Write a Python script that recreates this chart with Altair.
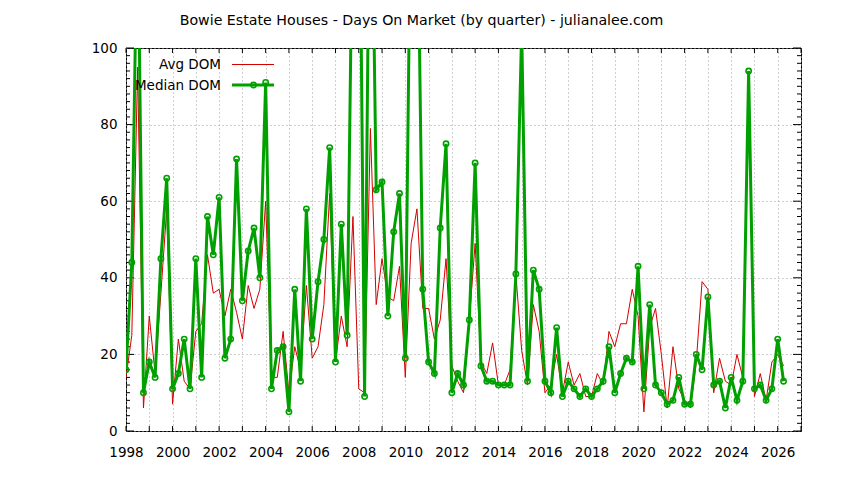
import altair as alt
import pandas as pd

title_text = "Bowie Estate Houses - Days On Market (by quarter) - julianalee.com"
series_names = ["Avg DOM", "Median DOM"]
start_year = 1998

avg_dom = [14, 25, 95, 6, 30, 15, 36, 58, 7, 24, 13, 11, 26, 28, 46, 36,
           37, 30, 37, 31, 24, 38, 32, 37, 60, 14, 14, 26, 10, 22, 16, 38,
           19, 22, 33, 62, 18, 30, 22, 56, 11, 10, 79, 33, 45, 35, 34, 43,
           14, 49, 58, 32, 32, 24, 29, 45, 17, 13, 10, 29, 49, 18, 15, 23,
           12, 12, 16, 41, 21, 12, 33, 26, 10, 12, 20, 10, 18, 12, 15, 9,
           9, 15, 12, 26, 22, 28, 28, 37, 30, 5, 27, 32, 20, 6, 22, 11,
           8, 6, 18, 39, 37, 10, 19, 13, 12, 20, 14, 94, 9, 15, 8, 18,
           20, 17]
median_dom = [16, 44, 140, 10, 18, 14, 45, 66, 11, 15, 24, 11, 45, 14, 56, 46,
              61, 19, 24, 71, 34, 47, 53, 40, 91, 11, 21, 22, 5, 37, 13, 58,
              24, 39, 50, 74, 18, 54, 25, 145, 170, 9, 170, 63, 65, 30, 52, 62,
              19, 150, 150, 37, 18, 15, 53, 75, 10, 15, 12, 29, 70, 17, 13, 13,
              12, 12, 12, 41, 105, 13, 42, 37, 13, 10, 27, 9, 13, 11, 9, 11,
              9, 11, 13, 22, 10, 15, 19, 18, 43, 11, 33, 12, 10, 7, 8, 14,
              7, 7, 20, 16, 35, 12, 13, 6, 14, 8, 13, 94, 11, 12, 8, 11,
              24, 13]

x_tick_years = list(range(1998, 2028))
y_tick_values = list(range(0, 101, 2))
y_label_values = list(range(0, 101, 20))

RED = "#d40000"
GREEN = "#00a000"
FONT = "DejaVu Sans"
W, H = 675, 383

quarters = [start_year + i * 0.25 for i in range(len(median_dom))]
df = pd.DataFrame({"t": quarters, "avg": avg_dom, "median": median_dom})

ticks_y = pd.DataFrame({"v": y_tick_values})
ticks_y["major"] = ticks_y["v"] % 20 == 0
ticks_y_minor = ticks_y[~ticks_y["major"]]
ticks_y_major = ticks_y[ticks_y["major"]]
ticks_x = pd.DataFrame({"year": x_tick_years})

xscale = alt.Scale(domain=[1998, 2027], nice=False, zero=False)
yscale = alt.Scale(domain=[0, 100], nice=False, zero=False)

x_axis = alt.Axis(values=x_tick_years, format="d",
                  labelExpr="datum.value % 2 == 0 ? datum.label : ''",
                  labelOverlap=False, labelFlush=False,
                  grid=True, ticks=False, tickSize=0, domain=False,
                  labelPadding=14, title=None)
y_axis = alt.Axis(values=y_label_values, grid=True, ticks=False, tickSize=0,
                  labelOverlap=False, labelFlush=False,
                  domain=False, labelPadding=9, title=None)

base = alt.Chart(df)

avg_line = base.mark_line(color=RED, strokeWidth=1, clip=True).encode(
    x=alt.X("t:Q", scale=xscale, axis=x_axis),
    y=alt.Y("avg:Q", scale=yscale, axis=y_axis),
)
med_line = base.mark_line(color=GREEN, strokeWidth=3, clip=True).encode(
    x=alt.X("t:Q", scale=xscale, axis=x_axis),
    y=alt.Y("median:Q", scale=yscale, axis=y_axis),
)
med_pts = base.mark_point(color=GREEN, filled=False, size=28, strokeWidth=1.6,
                          clip=True, opacity=1).encode(
    x=alt.X("t:Q", scale=xscale, axis=x_axis),
    y=alt.Y("median:Q", scale=yscale, axis=y_axis),
)

def ytick_layer(data, x0, x1):
    return alt.Chart(data).mark_rule(color="black", strokeWidth=1).encode(
        y=alt.Y("v:Q", scale=yscale, axis=y_axis),
        x=alt.value(x0), x2=alt.value(x1))

def xtick_layer(y0, y1):
    return alt.Chart(ticks_x).mark_rule(color="black", strokeWidth=1).encode(
        x=alt.X("year:Q", scale=xscale, axis=x_axis),
        y=alt.value(y0), y2=alt.value(y1))

tick_layers = [
    ytick_layer(ticks_y_minor, 0, 4), ytick_layer(ticks_y_minor, W, W - 4),
    ytick_layer(ticks_y_major, 0, 8), ytick_layer(ticks_y_major, W, W - 8),
    xtick_layer(H, H - 5), xtick_layer(0, 5),
]

# legend (top-left, labels right-aligned, sample to the right)
leg_avg = pd.DataFrame({"label": [series_names[0]]})
leg_med = pd.DataFrame({"label": [series_names[1]]})
leg_text_avg = alt.Chart(leg_avg).mark_text(align="right", baseline="middle", font=FONT,
                                            fontSize=13.5, color="black").encode(
    text="label:N", x=alt.value(95), y=alt.value(17))
leg_text_med = alt.Chart(leg_med).mark_text(align="right", baseline="middle", font=FONT,
                                            fontSize=13.5, color="black").encode(
    text="label:N", x=alt.value(95), y=alt.value(37.5))
leg_line_avg = alt.Chart(leg_avg).mark_rule(color=RED, strokeWidth=1).encode(
    x=alt.value(106), x2=alt.value(148), y=alt.value(16.5))
leg_line_med = alt.Chart(leg_med).mark_rule(color=GREEN, strokeWidth=3).encode(
    x=alt.value(106), x2=alt.value(148), y=alt.value(37))
leg_pt_med = alt.Chart(leg_med).mark_point(color=GREEN, filled=False, size=28,
                                           strokeWidth=1.6, opacity=1).encode(
    x=alt.value(127.5), y=alt.value(37))

chart = alt.layer(
    *tick_layers, avg_line, med_line, med_pts,
    leg_text_avg, leg_text_med, leg_line_avg, leg_line_med, leg_pt_med,
).properties(
    width=W, height=H,
    title=alt.TitleParams(title_text, font=FONT, fontSize=14.2, fontWeight="normal",
                          color="black", anchor="middle", frame="group",
                          baseline="alphabetic", offset=2, dx=-42, dy=0),
    autosize=alt.AutoSizeParams(type="none"),
    padding={"left": 118, "top": 40, "right": 35, "bottom": 41},
    background="white",
).configure_view(
    stroke="black", strokeWidth=1
).configure_axis(
    labelFont=FONT, labelFontSize=13.5, labelColor="black",
    gridColor="#a0a0a0", gridDash=[1, 3], gridWidth=1, gridOpacity=1,
)

chart.save("out.html", embed_options={"renderer": "svg", "actions": False})
